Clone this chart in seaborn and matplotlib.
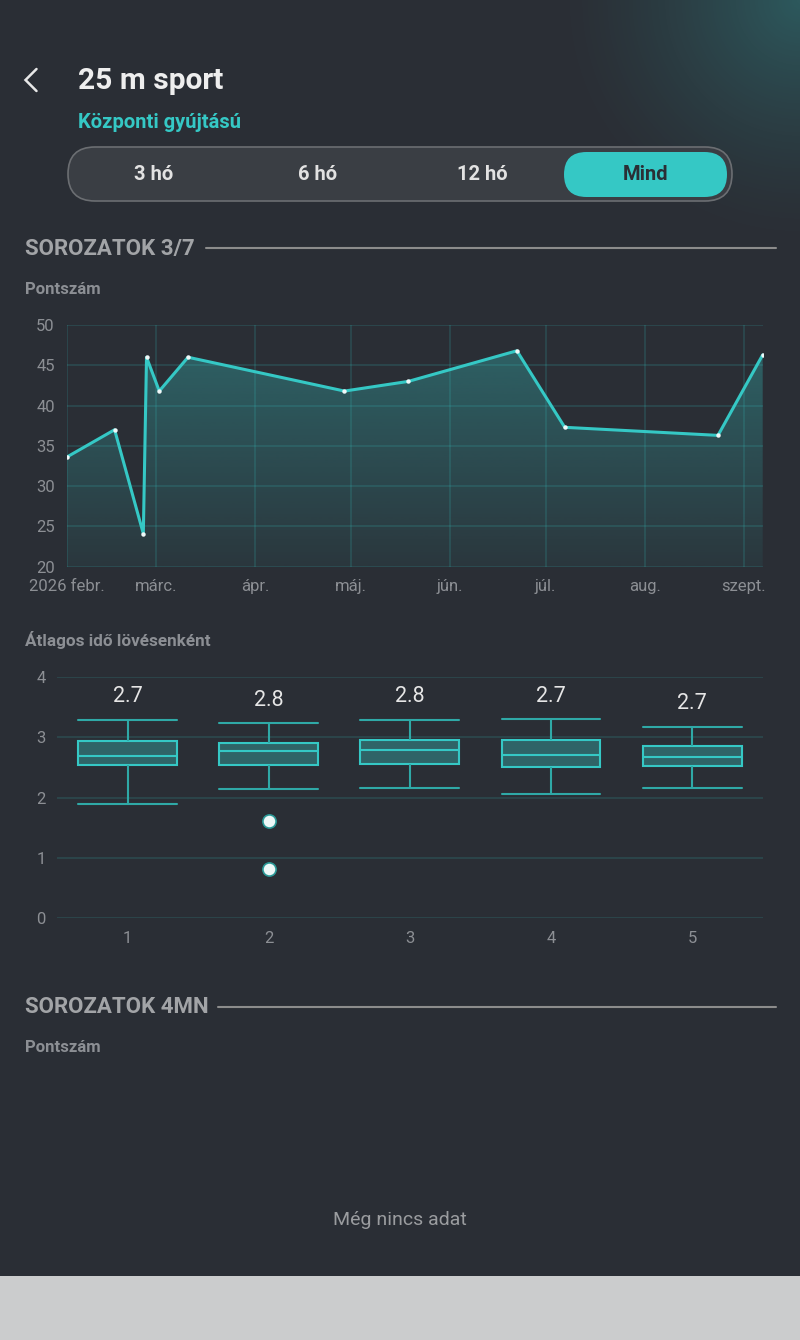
import numpy as np
import pandas as pd
import matplotlib
matplotlib.use("Agg")
from matplotlib import pyplot as plt
from matplotlib import dates as mdates
from matplotlib.patches import FancyBboxPatch, Rectangle
import seaborn as sns

# score series (Pontszám)
score_dates = ["2026-02-01", "2026-02-16", "2026-02-25", "2026-02-26", "2026-03-02",
               "2026-03-11", "2026-04-29", "2026-05-19", "2026-06-22", "2026-07-07",
               "2026-08-24", "2026-09-07"]
score_values = [33.6, 37.0, 24.1, 46.0, 41.8, 46.0, 41.8, 43.0, 46.8, 37.3, 36.3, 46.3]
month_labels = ["2026 febr.", "márc.", "ápr.", "máj.", "jún.", "júl.", "aug.", "szept."]

# average time per shot, per series (box stats)
series_names = ["1", "2", "3", "4", "5"]
whisker_lo = [1.90, 2.14, 2.16, 2.06, 2.15]
q1 = [2.53, 2.53, 2.56, 2.50, 2.52]
median = [2.69, 2.77, 2.78, 2.71, 2.67]
q3 = [2.93, 2.91, 2.96, 2.96, 2.85]
whisker_hi = [3.29, 3.23, 3.29, 3.30, 3.17]
outliers = [[], [0.82, 1.61], [], [], []]

tabs = ["3 hó", "6 hó", "12 hó", "Mind"]

BG = "#2a2e35"
TEAL = "#35c8c5"
GRAY = "#8c8f94"

sns.set_theme(style="dark", rc={"axes.facecolor": "none", "figure.facecolor": BG})
plt.rcParams["font.family"] = ["Roboto", "DejaVu Sans"]

W, H = 800, 1340
fig = plt.figure(figsize=(W / 100, H / 100), dpi=100)

# background layer in pixel coordinates
bg = fig.add_axes([0, 0, 1, 1])
bg.axis("off")

# teal glow in the top right corner
yy, xx = np.mgrid[0:300, 0:300]
dist = np.hypot(xx - 300, yy)
glow = np.zeros((300, 300, 4))
glow[..., :3] = matplotlib.colors.to_rgb(TEAL)
glow[..., 3] = np.clip(1 - dist / 250, 0, 1) ** 1.4 * 0.28
bg.imshow(glow, extent=[500, 800, 300, 0], zorder=0)
bg.set_xlim(0, W)
bg.set_ylim(H, 0)

# header
bg.plot([36.5, 25.5, 36.5], [69, 80, 91], color="#e8e8e8", lw=1.8,
        solid_capstyle="round", solid_joinstyle="miter")
bg.text(78, 81, "25 m sport", color="#eeeeee", fontsize=21.5, fontweight="bold", va="center")
bg.text(78, 122, "Központi gyújtású", color=TEAL, fontsize=14.5, fontweight="bold", va="center")

# segmented control
bg.add_patch(FancyBboxPatch((68, 147), 664, 54, boxstyle="round,pad=0,rounding_size=27",
                            fc="#3a3e44", ec="#6b6e72", lw=1.2))
bg.add_patch(FancyBboxPatch((564, 152), 163, 45, boxstyle="round,pad=0,rounding_size=22.5",
                            fc=TEAL, ec="none"))
for i, t in enumerate(tabs):
    sel = t == "Mind"
    bg.text(154 + i * 164, 175, t, ha="center", va="center", fontsize=14.5,
            fontweight="bold", color=BG if sel else "#e2e2e2")

# section headers
bg.text(25, 249, "SOROZATOK 3/7", color="#a2a4a7", fontsize=16, fontweight="bold", va="center")
bg.plot([206, 776], [248, 248], color="#8c8c8c", lw=1.5)
bg.text(25, 289, "Pontszám", color=GRAY, fontsize=12, fontweight="bold", va="center")
bg.text(25, 640, "Átlagos idő lövésenként", color=GRAY, fontsize=12.3, fontweight="bold", va="center")
bg.text(25, 1007, "SOROZATOK 4MN", color="#a2a4a7", fontsize=16, fontweight="bold", va="center")
bg.plot([218, 776], [1007, 1007], color="#8c8c8c", lw=1.5)
bg.text(25, 1047, "Pontszám", color=GRAY, fontsize=12, fontweight="bold", va="center")
bg.text(400, 1220, "Még nincs adat", color="#9a9c9f", fontsize=14, ha="center", va="center")
bg.add_patch(Rectangle((0, 1276), 800, 64, color="#cbcccd", lw=0))


def px_axes(x0, y0, x1, y1):
    return fig.add_axes([x0 / W, 1 - y1 / H, (x1 - x0) / W, (y1 - y0) / H])


# line chart
ax = px_axes(66.7, 325, 762.7, 566.7)
dates = pd.to_datetime(score_dates)
sns.lineplot(x=dates, y=score_values, ax=ax, color=TEAL, lw=2.2, zorder=3,
             marker="o", markersize=3.2, markerfacecolor="#f0f8f8", markeredgewidth=0)

fill = ax.fill_between(dates, score_values, 20, color="none", lw=0)
grad = np.zeros((256, 1, 4))
grad[..., :3] = matplotlib.colors.to_rgb(TEAL)
grad[:, 0, 3] = np.linspace(0.06, 0.36, 256)
xn = mdates.date2num(dates)
im = ax.imshow(grad, extent=[xn[0], xn[-1], 20, 50], origin="lower", aspect="auto", zorder=0.3)
im.set_clip_path(fill.get_paths()[0], transform=ax.transData)

month_ticks = pd.date_range("2026-02-01", periods=len(month_labels), freq="MS")
ax.set_xticks(month_ticks)
ax.set_xticklabels(month_labels)
ax.set_yticks(range(20, 51, 5))
ax.set_xlim(dates[0], dates[-1])
ax.set_ylim(20, 50)
ax.set_xlabel("")
ax.set_ylabel("")
ax.grid(True, color=TEAL, alpha=0.2, lw=1.1)
ax.set_axisbelow(True)
for s in ax.spines.values():
    s.set_visible(False)
ax.tick_params(length=0, labelsize=12, labelcolor=GRAY)
ax.tick_params(axis="y", pad=8.5)
ax.tick_params(axis="x", pad=9)

# box chart
rows = []
for name, lo, a, m, b, hi, out in zip(series_names, whisker_lo, q1, median, q3, whisker_hi, outliers):
    k = len(out) + 1
    vals = out + [lo] + [a] * k + [m] + [b] * k + [hi] * k
    rows += [{"sorozat": name, "ido": v} for v in vals]
box_df = pd.DataFrame(rows)

ax2 = px_axes(57, 676.7, 762.7, 918.3)
sns.boxplot(data=box_df, x="sorozat", y="ido", ax=ax2, order=series_names, width=0.7,
            color="#2f6467", saturation=1, linecolor=TEAL, linewidth=1.5, whis=2.0,
            whiskerprops=dict(color="#2fa9a7"), capprops=dict(color="#2fa9a7"),
            flierprops=dict(marker="o", markerfacecolor="#eef8f8", markeredgecolor="#2a9896",
                            markeredgewidth=1.2, markersize=9.5),
            capwidths=0.7, zorder=3)
for i, name in enumerate(series_names):
    m = np.median(box_df.loc[box_df["sorozat"] == name, "ido"])
    ax2.text(i, whisker_hi[i] + 0.38, f"{m:.1f}", ha="center", va="center",
             fontsize=15.5, color="#e6e6e6")
ax2.set_xlim(-0.5, len(series_names) - 0.5)
ax2.set_ylim(0, 4)
ax2.set_yticks(range(0, 5))
ax2.set_xlabel("")
ax2.set_ylabel("")
ax2.yaxis.grid(True, color=TEAL, alpha=0.16, lw=1.3)
ax2.xaxis.grid(False)
ax2.set_axisbelow(True)
for s in ax2.spines.values():
    s.set_visible(False)
ax2.tick_params(length=0, labelsize=12, labelcolor=GRAY)
ax2.tick_params(axis="y", pad=8)
ax2.tick_params(axis="x", pad=9)

fig.savefig("out.png", dpi=100, facecolor=BG)
